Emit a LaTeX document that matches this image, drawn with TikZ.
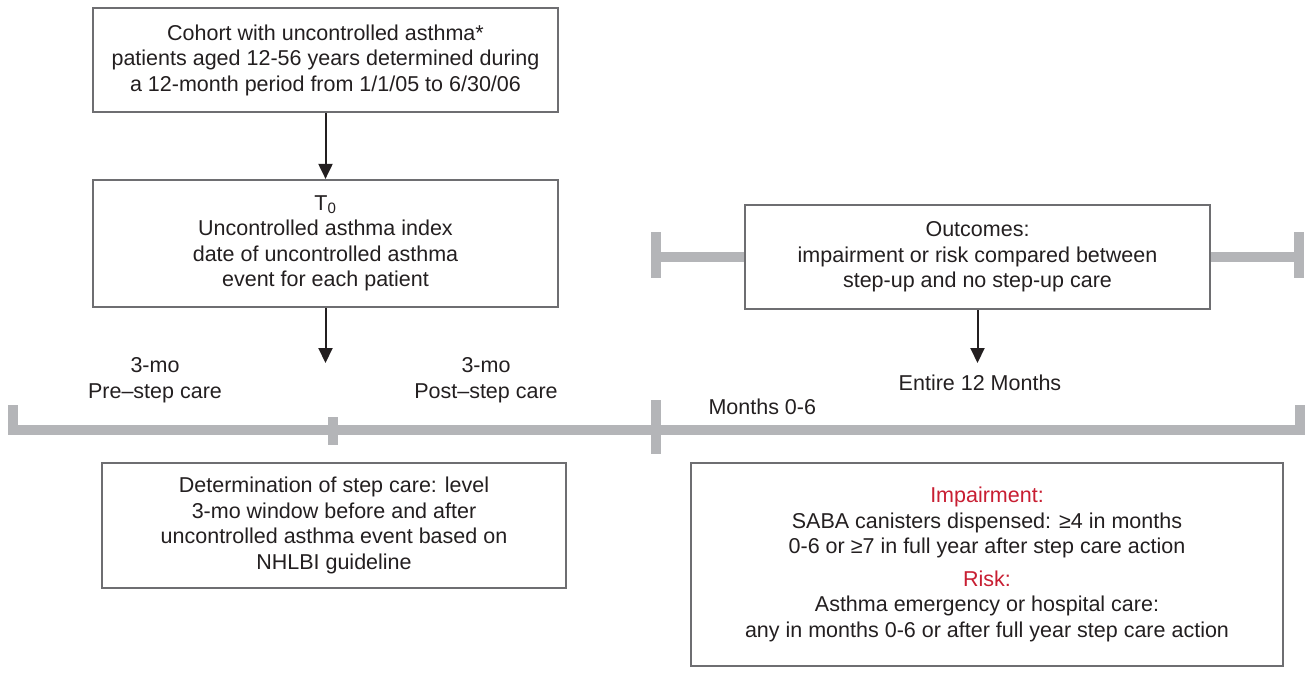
\documentclass[tikz,border=0pt]{standalone}
\usepackage{fontspec}
\setmainfont{Liberation Sans}
\usetikzlibrary{arrows.meta}
\definecolor{boxgray}{RGB}{110,110,113}
\definecolor{bargray}{RGB}{180,181,184}
\definecolor{ink}{RGB}{35,31,32}
\definecolor{riskred}{RGB}{200,30,50}

\begin{document}
\begin{tikzpicture}[x=1pt, y=-1pt,
  stepbox/.style={draw=boxgray, line width=2.2pt, fill=white, align=center, inner sep=0pt},
  bar/.style={draw=bargray, line width=10pt},
  flow/.style={draw=ink, line width=2pt, -{Triangle[length=15pt,width=14pt]}},
  every node/.style={font=\fontsize{21.5}{25.5}\selectfont, text=ink}]

\useasboundingbox (0,0) rectangle (1310,688);

% timeline
\draw[bar] (13,405) -- (13,430) -- (1300,430) -- (1300,405);
\draw[bar] (333,417) -- (333,445);
\draw[bar] (656,400) -- (656,454);

% boxes
\node[stepbox, minimum width=465pt, minimum height=104pt] (cohort) at (325.5,60) {Cohort with uncontrolled asthma*\\patients aged 12-56 years determined during\\a 12-month period from 1/1/05 to 6/30/06};
\node[stepbox, minimum width=465pt, minimum height=127pt] (index) at (325.5,243.5) {T\textsubscript{0}\\Uncontrolled asthma index\\date of uncontrolled asthma\\event for each patient};
\node[stepbox, minimum width=465pt, minimum height=104pt] (outcome) at (977.5,257) {Outcomes:\\impairment or risk compared between\\step-up and no step-up care};
\node[stepbox, minimum width=464pt, minimum height=125pt] (level) at (334,525.5) {Determination of step care: level\\3-mo window before and after\\uncontrolled asthma event based on\\NHLBI guideline};
\node[stepbox, minimum width=592pt, minimum height=203pt] (measure) at (987,564.5) {\textcolor{riskred}{Impairment:}\\SABA canisters dispensed: ≥4 in months\\0-6 or ≥7 in full year after step care action\\[7pt]\textcolor{riskred}{Risk:}\\Asthma emergency or hospital care:\\any in months 0-6 or after full year step care action};

% bracket round the outcomes
\draw[bar] (656,232) -- (656,278);
\draw[bar] (656,257) -- (outcome.west);
\draw[bar] (outcome.east) -- (1299,257);
\draw[bar] (1299,232) -- (1299,278);

% labels on the timeline
\node[align=center] (pre) at (155,380) {3-mo\\Pre–step care};
\node[align=center] (post) at (486,380) {3-mo\\Post–step care};
\node[anchor=west] (first) at (705,407) {Months 0-6};
\node (whole) at (980,383) {Entire 12 Months};

\coordinate (tzero) at (325.5,363);
\coordinate (tfull) at (977.5,363);

\draw[flow] (cohort) -- (index);
\draw[flow] (index) -- (tzero);
\draw[flow] (outcome) -- (tfull);
\end{tikzpicture}
\end{document}
